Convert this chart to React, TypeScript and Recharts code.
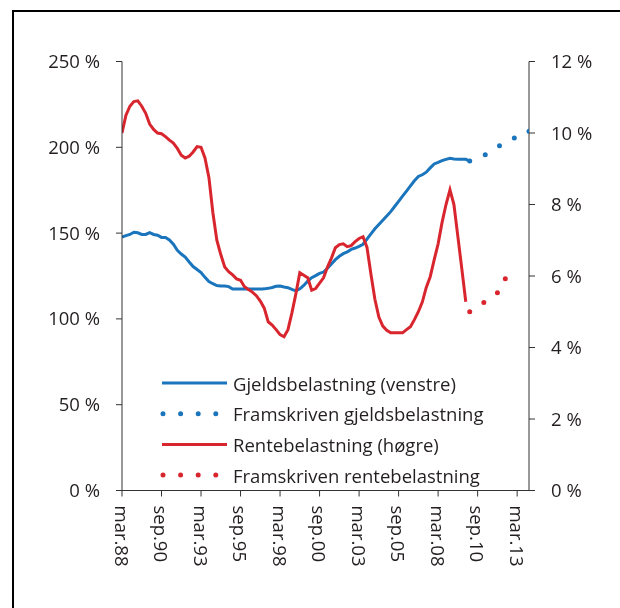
import React from "react";
import { LineChart, Line, XAxis, YAxis } from "recharts";

// Quarterly index 0 = mar.88
const debt = [147.7,148.5,149.2,150.5,150.2,149.2,149.2,150.3,149.2,148.8,147.5,147.5,146,143.5,140,137.8,136,133.2,130.5,128.8,127,124.2,121.8,120.5,119.4,119.2,119.2,118.8,117.4,117.4,117.4,117.4,117.4,117.4,117.4,117.4,117.5,117.8,118.3,119,119.2,118.6,118.2,117.2,116.3,117.5,119.5,122,124,125.2,126.5,127.3,129.5,132,134.5,136.5,138,139,140.5,141.3,142.3,143.5,146.5,149.5,152.5,155,157.5,160,162.5,165.5,168.5,171.5,174.5,177.5,180.5,183,184,185.5,188,190.3,191.2,192.2,193,193.6,193.2,193,193,193,192];
const debtProjStart = 88;
const debtProj = [192,192.8,193.7,194.6,195.8,197.3,198.8,200.2,201.5,202.8,204,205.2,206.2,207.3,208.3,209.3];
const rate = [10.0,10.5,10.75,10.88,10.9,10.75,10.55,10.25,10.1,10.0,9.98,9.9,9.8,9.72,9.57,9.38,9.3,9.35,9.47,9.62,9.6,9.3,8.75,7.77,7.0,6.6,6.25,6.12,6.03,5.92,5.88,5.7,5.62,5.55,5.45,5.3,5.1,4.72,4.63,4.5,4.36,4.3,4.5,4.97,5.5,6.09,6.02,5.95,5.6,5.65,5.8,5.95,6.25,6.5,6.79,6.88,6.9,6.82,6.85,6.96,7.05,7.1,6.8,6.05,5.35,4.85,4.6,4.48,4.41,4.41,4.41,4.41,4.5,4.58,4.78,5.0,5.27,5.68,5.98,6.45,6.9,7.5,8.0,8.41,8.0,7.1,6.2,5.28];
const rateProjStart = 88;
const rateProj = [5.0,5.07,5.14,5.21,5.29,5.37,5.45,5.53,5.7,5.92];
const lastIndex = 103;
const xTickLabels = ["mar.88","sep.90","mar.93","sep.95","mar.98","sep.00","mar.03","sep.05","mar.08","sep.10","mar.13"];
const xTickStep = 10;
const leftTicks = [0,50,100,150,200,250];
const rightTicks = [0,2,4,6,8,10,12];
const legendItems = [
  { label: "Gjeldsbelastning (venstre)", color: "#1a75bc", dotted: false },
  { label: "Framskriven gjeldsbelastning", color: "#1a75bc", dotted: true },
  { label: "Rentebelastning (høgre)", color: "#d9262e", dotted: false },
  { label: "Framskriven rentebelastning", color: "#d9262e", dotted: true },
];

const BLUE = "#1a75bc";
const RED = "#d9262e";
const TEXT = "#231f20";
const AXIS = "#333333";
const FONT = "'Open Sans', sans-serif";
const FS = 18.5;

const table = Array.from({ length: lastIndex + 1 }, (_, i) => ({
  i,
  debt: i < debt.length ? debt[i] : null,
  debtProj: i >= debtProjStart && i - debtProjStart < debtProj.length ? debtProj[i - debtProjStart] : null,
  rate: i < rate.length ? rate[i] : null,
  rateProj: i >= rateProjStart && i - rateProjStart < rateProj.length ? rateProj[i - rateProjStart] : null,
}));

const xTicks = xTickLabels.map((_, k) => k * xTickStep);

const XTick = (props: any) => {
  const { x, y, payload } = props;
  const label = xTickLabels[Math.round(payload.value / xTickStep)];
  return (
    <text
      x={x}
      y={y}
      transform={`rotate(90, ${x}, ${y})`}
      textAnchor="start"
      dominantBaseline="central"
      fill={TEXT}
      fontSize={FS}
      fontFamily={FONT}
    >
      {label}
    </text>
  );
};

const endDot = (lastIdx: number, color: string) => (props: any) => {
  const { cx, cy, index } = props;
  if (props.payload && props.payload.i === lastIdx && cx != null && cy != null) {
    return <circle key={`d${index}`} cx={cx} cy={cy} r={2.5} fill={color} stroke="none" />;
  }
  return <g key={`d${index}`} />;
};

const Legend = () => (
  <svg
    width={380}
    height={130}
    style={{ position: "absolute", left: 142, top: 357 }}
  >
    {legendItems.map((it, k) => {
      const y = 18 + k * 30.7;
      return (
        <g key={it.label}>
          {it.dotted ? (
            <line x1={13} x2={70} y1={y} y2={y} stroke={it.color} strokeWidth={5} strokeLinecap="round" strokeDasharray="0 17.6" />
          ) : (
            <line x1={12} x2={77} y1={y} y2={y} stroke={it.color} strokeWidth={3} />
          )}
          <text x={83} y={y} dominantBaseline="central" fill={TEXT} fontSize={FS} fontFamily={FONT}>
            {it.label}
          </text>
        </g>
      );
    })}
  </svg>
);

export default function App() {
  return (
    <div style={{ position: "relative", width: 604, height: 592 }}>
      <div
        style={{
          position: "fixed",
          left: 12,
          top: 10,
          width: 800,
          height: 800,
          borderLeft: "2px solid #000",
          borderTop: "2px solid #000",
          boxSizing: "border-box",
          pointerEvents: "none",
        }}
      />
      <LineChart
        width={604}
        height={592}
        data={table}
        margin={{ top: 53.5, right: 0, bottom: 9.5, left: 0 }}
      >
        <XAxis
          dataKey="i"
          type="number"
          domain={[0, lastIndex]}
          ticks={xTicks}
          tick={<XTick />}
          tickSize={6}
          tickMargin={9}
          height={100}
          interval={0}
          stroke={AXIS}
          tickLine={{ stroke: AXIS }}
          axisLine={{ stroke: AXIS }}
          allowDataOverflow
        />
        <YAxis
          yAxisId="left"
          domain={[0, 250]}
          ticks={leftTicks}
          width={114}
          tickSize={6}
          tickMargin={16}
          interval={0}
          tickFormatter={(v: number) => `${v} %`}
          tick={{ fill: TEXT, fontSize: FS, fontFamily: FONT }}
          stroke={AXIS}
        />
        <YAxis
          yAxisId="right"
          orientation="right"
          domain={[0, 12]}
          ticks={rightTicks}
          width={83}
          tickSize={6}
          tickMargin={16}
          interval={0}
          tickFormatter={(v: number) => `${v} %`}
          tick={{ fill: TEXT, fontSize: FS, fontFamily: FONT, textAnchor: "start" }}
          stroke={AXIS}
        />
        <Line yAxisId="left" dataKey="debt" stroke={BLUE} strokeWidth={3} dot={false} activeDot={false} isAnimationActive={false} />
        <Line yAxisId="left" dataKey="debtProj" stroke={BLUE} strokeWidth={5} strokeLinecap="round" strokeDasharray="0 16.8" dot={endDot(debtProjStart + debtProj.length - 1, BLUE)} activeDot={false} isAnimationActive={false} />
        <Line yAxisId="right" dataKey="rate" stroke={RED} strokeWidth={3} dot={false} activeDot={false} isAnimationActive={false} />
        <Line yAxisId="right" dataKey="rateProj" stroke={RED} strokeWidth={5} strokeLinecap="round" strokeDasharray="0 16.8" dot={endDot(rateProjStart + rateProj.length - 1, RED)} activeDot={false} isAnimationActive={false} />
      </LineChart>
      <Legend />
    </div>
  );
}
